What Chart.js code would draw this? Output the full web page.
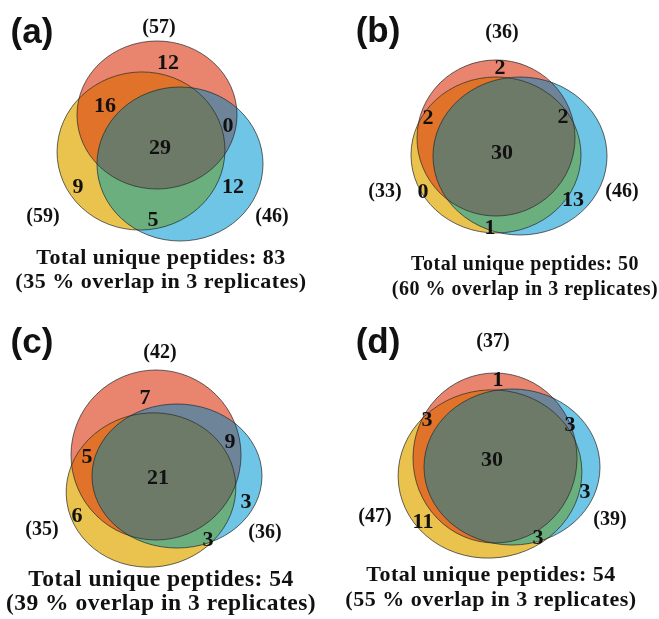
<!DOCTYPE html>
<html>
<head>
<meta charset="utf-8">
<script src="https://cdn.jsdelivr.net/npm/chart.js@4"></script>
<style>
  body { margin: 0; background: #fff; }
  #wrap { position: relative; width: 659px; height: 619px; overflow: hidden; }
  .panel { position: absolute; }
</style>
</head>
<body>
<div id="wrap">
  <canvas class="panel" id="p0" width="330" height="310" style="left:0;top:0"></canvas>
  <canvas class="panel" id="p1" width="329" height="310" style="left:330px;top:0"></canvas>
  <canvas class="panel" id="p2" width="330" height="309" style="left:0;top:310px"></canvas>
  <canvas class="panel" id="p3" width="329" height="309" style="left:330px;top:310px"></canvas>
</div>
<script>
// data
const panelTags = ['(a)', '(b)', '(c)', '(d)'];
// peptides per replicate: [red, yellow, blue]
const replicateTotals = [[57, 59, 46], [36, 33, 46], [42, 35, 36], [37, 47, 39]];
// region counts: red only, yellow only, blue only, red+yellow, red+blue, yellow+blue, all three
const regionCounts = [
    [12, 9, 12, 16, 0, 5, 29],
    [2, 0, 13, 2, 2, 1, 30],
    [7, 6, 3, 5, 9, 3, 21],
    [1, 11, 3, 3, 3, 3, 30]
];
const uniqueTotals = [83, 50, 54, 54];
const overlapPercent = [35, 60, 39, 55];

// layout (panel units): ellipses [cx, cy, rx, ry, rotation] for red, yellow, blue
const ellipses = [
    [[157, 115, 80, 74, 0], [141, 151, 84, 79, -0.1], [180, 164, 83, 77, 0]],
    [[166, 138, 79, 78, 0], [166, 155, 85, 78, 0], [190, 156, 87, 79, 0]],
    [[156, 145, 85, 85, 0], [151, 180, 85, 77, -0.15], [177, 166, 85, 72, 0]],
    [[165, 148, 82, 85, 0], [160, 164, 92, 84, -0.12], [182, 157, 88, 78, 0]]
];
const regionPos = [
    [[168, 63], [78, 187], [233, 187], [105, 106], [228, 126], [153, 220], [160, 148]],
    [[170, 68], [93, 192], [243, 200], [98, 118], [233, 117], [160, 228], [172, 153]],
    [[145, 88], [77, 206], [246, 192], [87, 147], [230, 132], [208, 230], [158, 168]],
    [[168, 70], [93, 212], [255, 182], [97, 110], [240, 115], [208, 228], [162, 150]]
];
const totalPos = [
    [[159, 28], [43, 217], [272, 217]],
    [[172, 33], [55, 192], [292, 192]],
    [[160, 43], [42, 220], [265, 223]],
    [[163, 32], [45, 207], [280, 210]]
];
const tagPos = [[32, 33], [48, 32], [32, 33], [48, 33]];
const captionPos = [[161, 258, 282], [195, 265, 290], [161, 270, 294], [161, 265, 290]];
const captionSize = [22, 20, 23.5, 22];

const setColors = ['#e9846f', '#e9c34e', '#6fc5e5'];
const pairs = [[0, 1], [0, 2], [1, 2]];
const pairColors = ['#e0722a', '#6e8498', '#6baf7e'];
const tripleColor = '#6e7a68';

const vennPlugin = {
    id: 'venn',
    beforeDatasetsDraw(chart, args, opts) {
        const p = opts.panel;
        const ctx = chart.ctx;
        const xs = chart.scales.x, ys = chart.scales.y;
        const shapes = ellipses[p].map(e => ({
            x: xs.getPixelForValue(e[0]),
            y: ys.getPixelForValue(e[1]),
            rx: Math.abs(xs.getPixelForValue(e[0] + e[2]) - xs.getPixelForValue(e[0])),
            ry: Math.abs(ys.getPixelForValue(e[1] + e[3]) - ys.getPixelForValue(e[1])),
            rot: e[4]
        }));
        const path = s => {
            ctx.beginPath();
            ctx.ellipse(s.x, s.y, s.rx, s.ry, s.rot, 0, Math.PI * 2);
        };
        ctx.save();
        shapes.forEach((s, i) => { path(s); ctx.fillStyle = setColors[i]; ctx.fill(); });
        pairs.forEach(([a, b], k) => {
            ctx.save();
            path(shapes[a]); ctx.clip();
            path(shapes[b]); ctx.fillStyle = pairColors[k]; ctx.fill();
            ctx.restore();
        });
        ctx.save();
        path(shapes[0]); ctx.clip();
        path(shapes[1]); ctx.clip();
        path(shapes[2]); ctx.fillStyle = tripleColor; ctx.fill();
        ctx.restore();
        ctx.strokeStyle = 'rgba(40,40,40,0.8)';
        ctx.lineWidth = 0.9;
        shapes.forEach(s => { path(s); ctx.stroke(); });
        ctx.restore();
    },
    afterDatasetsDraw(chart, args, opts) {
        const p = opts.panel;
        const ctx = chart.ctx;
        const xs = chart.scales.x, ys = chart.scales.y;
        ctx.save();
        ctx.fillStyle = '#111';
        ctx.textAlign = 'center';
        ctx.textBaseline = 'middle';
        // region counts, at the dataset points
        ctx.font = 'bold 22px "Liberation Serif", "Times New Roman", serif';
        chart.getDatasetMeta(0).data.forEach((pt, i) => {
            ctx.fillText(String(regionCounts[p][i]), pt.x, pt.y);
        });
        // replicate totals
        ctx.font = 'bold 20px "Liberation Serif", "Times New Roman", serif';
        chart.getDatasetMeta(1).data.forEach((pt, i) => {
            ctx.fillText('(' + replicateTotals[p][i] + ')', pt.x, pt.y);
        });
        // panel tag
        ctx.font = 'bold 35px "Liberation Sans", Arial, sans-serif';
        ctx.fillText(panelTags[p], xs.getPixelForValue(tagPos[p][0]), ys.getPixelForValue(tagPos[p][1]));
        // caption
        const c = captionPos[p];
        ctx.font = 'bold ' + captionSize[p] + 'px "Liberation Serif", "Times New Roman", serif';
        ctx.letterSpacing = '0.5px';
        ctx.fillText('Total unique peptides: ' + uniqueTotals[p], xs.getPixelForValue(c[0]), ys.getPixelForValue(c[1]));
        ctx.fillText('(' + overlapPercent[p] + ' % overlap in 3 replicates)', xs.getPixelForValue(c[0]), ys.getPixelForValue(c[2]));
        ctx.restore();
    }
};

panelTags.forEach((tag, p) => {
    const canvas = document.getElementById('p' + p);
    new Chart(canvas.getContext('2d'), {
        type: 'scatter',
        data: {
            datasets: [
                { label: 'regions', data: regionPos[p].map(([x, y]) => ({ x, y })), pointRadius: 0 },
                { label: 'replicates', data: totalPos[p].map(([x, y]) => ({ x, y })), pointRadius: 0 }
            ]
        },
        options: {
            responsive: false,
            animation: false,
            events: [],
            layout: { padding: 0 },
            plugins: {
                legend: { display: false },
                tooltip: { enabled: false },
                venn: { panel: p }
            },
            scales: {
                x: { type: 'linear', min: 0, max: canvas.width, display: false },
                y: { type: 'linear', min: 0, max: canvas.height, reverse: true, display: false }
            }
        },
        plugins: [vennPlugin]
    });
});
</script>
</body>
</html>
